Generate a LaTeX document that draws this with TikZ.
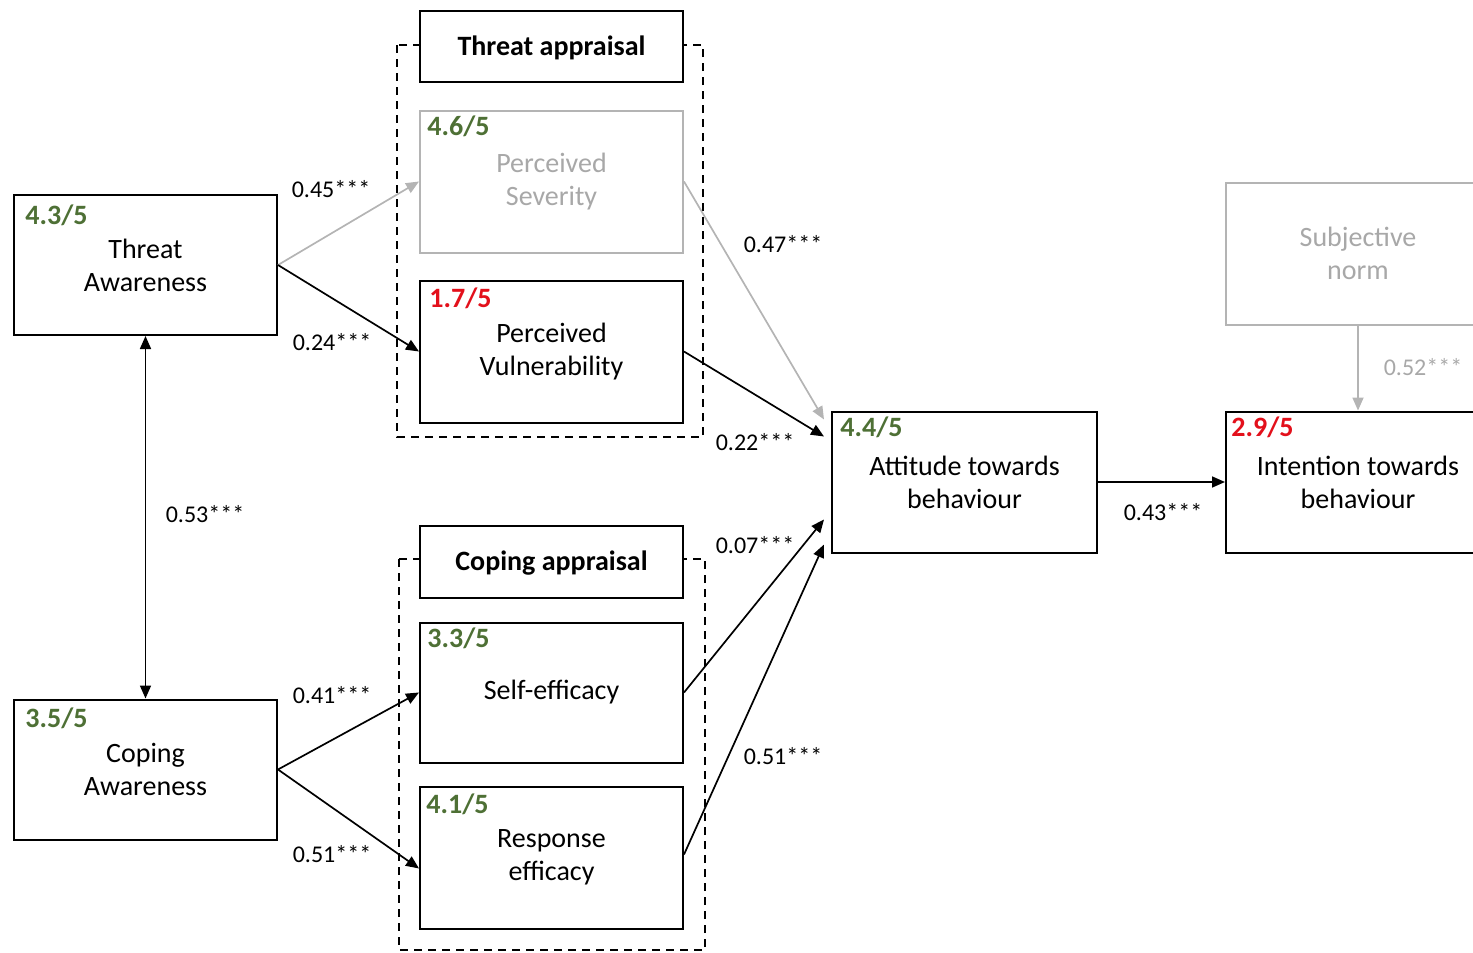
\documentclass[tikz,border=0pt]{standalone}
\usepackage{fontspec}
\setmainfont{Carlito}
\usetikzlibrary{arrows.meta,calc}
\definecolor{scgreen}{HTML}{4E7035}
\definecolor{scred}{HTML}{E3101B}
\definecolor{lgray}{HTML}{B4B4B4}
\definecolor{tgray}{HTML}{A8A8A8}
\begin{document}
\begin{tikzpicture}[x=0.5pt,y=-0.5pt,
 box/.style={draw, line width=1pt, fill=white, minimum width=131.5pt, minimum height=70.5pt, align=center, font=\fontsize{14}{16.5}\selectfont, inner sep=0pt},
 graybox/.style={box, draw=lgray, text=tgray},
 titlebox/.style={draw, line width=1pt, fill=white, minimum width=131.5pt, minimum height=35.5pt, inner sep=0pt, text depth=1pt, font=\bfseries\fontsize{14}{16.5}\selectfont},
 score/.style={anchor=west, font=\bfseries\fontsize{14}{16.5}\selectfont, inner sep=0pt},
 lab/.style={font=\fontsize{12}{14}\selectfont, inner sep=0pt},
 arr/.style={line width=0.85pt, -{Triangle[length=6.5pt,width=5.5pt]}},
 grayarr/.style={arr, draw=lgray},
 group/.style={line width=0.8pt, dash pattern=on 4pt off 3pt}
]
\useasboundingbox (0,0) rectangle (1473,953);

% dashed groups
\draw[group] (397,45) rectangle (703,437);
\draw[group] (399,559) rectangle (705,950);

% nodes
\node[box, minimum height=70pt] (ta) at (145.5,265) {Threat\\Awareness};
\node[box, minimum height=70pt] (ca) at (145.5,769.5) {Coping\\Awareness};
\node[titlebox] (tat) at (551.5,46.5) {Threat appraisal};
\node[graybox, minimum height=71pt] (ps) at (551.5,181.5) {Perceived\\Severity};
\node[box, minimum height=71pt] (pv) at (551.5,351.5) {Perceived\\Vulnerability};
\node[titlebox, minimum height=36pt] (cat) at (551.5,562) {Coping appraisal};
\node[box, minimum height=70pt] (se) at (551.5,692.5) {Self-efficacy};
\node[box, minimum height=71pt] (re) at (551.5,857.5) {Response\\efficacy};
\node[box, minimum width=132.5pt] (att) at (964.5,482) {Attitude towards\\behaviour};
\node[box, minimum width=132pt] (int) at (1358,482) {Intention towards\\behaviour};
\node[graybox, minimum width=132pt, minimum height=71pt] (sn) at (1358,253.5) {Subjective\\norm};

% scores
\node[score, text=scgreen] (sta) at ($(ta.north west)+(12,21)$) {4.3/5};
\node[score, text=scgreen] (sca) at ($(ca.north west)+(12,20)$) {3.5/5};
\node[score, text=scgreen] (sps) at ($(ps.north west)+(8,17)$) {4.6/5};
\node[score, text=scred] (spv) at ($(pv.north west)+(10,19)$) {1.7/5};
\node[score, text=scgreen] (sse) at ($(se.north west)+(8,17)$) {3.3/5};
\node[score, text=scgreen] (sre) at ($(re.north west)+(7,19)$) {4.1/5};
\node[score, text=scgreen] (satt) at ($(att.north west)+(9,17)$) {4.4/5};
\node[score, text=scred] (sint) at ($(int.north west)+(6,17)$) {2.9/5};

% connectors
\draw[grayarr] (ta.east) -- (ps.west);
\draw[arr] (ta.east) -- (pv.west);
\draw[arr, {Triangle[length=6.5pt,width=5.5pt]}-{Triangle[length=6.5pt,width=5.5pt]}] (ta.south) -- (ca.north);
\draw[arr] (ca.east) -- (se.west);
\draw[arr] (ca.east) -- ($(re.west)+(0,11)$);
\draw[grayarr] (ps.east) -- ($(att.north west)+(-7,9)$);
\draw[arr] (pv.east) -- ($(att.north west)+(-7,26)$);
\draw[arr] (se.east) -- ($(att.north west)+(-7,109)$);
\draw[arr] ($(re.east)+(0,-3)$) -- ($(att.north west)+(-7,134)$);
\draw[arr] (att.east) -- (int.west);
\draw[grayarr] (sn.south) -- (int.north);

% labels
\node[lab] (l1) at (331,189) {0.45***};
\node[lab] (l2) at (332,342) {0.24***};
\node[lab] (l3) at (205,514) {0.53***};
\node[lab] (l4) at (332,695) {0.41***};
\node[lab] (l5) at (332,854) {0.51***};
\node[lab] (l6) at (783,244) {0.47***};
\node[lab] (l7) at (755,442) {0.22***};
\node[lab] (l8) at (755,545) {0.07***};
\node[lab] (l9) at (783,756) {0.51***};
\node[lab] (l10) at (1163,512) {0.43***};
\node[lab, text=tgray] (l11) at (1423,367) {0.52***};
\end{tikzpicture}
\end{document}
